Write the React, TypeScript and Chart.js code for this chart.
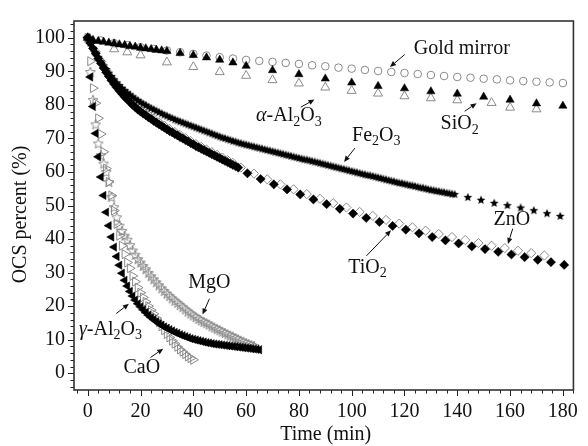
import React, { useEffect, useRef } from 'react';
import { Chart, registerables } from 'chart.js';
Chart.register(...registerables);

const FONT = '"Liberation Serif", "Times New Roman", serif';
const GRAY = '#8a8a8a';

// ---------------- data (time in min, OCS percent) ----------------
const goldX = [0, 5, 10, 15, 20, 25, 30, 35, 40, 45, 50, 55, 60, 65, 70, 75, 80, 85, 90, 95, 100, 105, 110, 115, 120, 125, 130, 135, 140, 145, 150, 155, 160, 165, 170, 175, 180];
const goldY = [100, 99.2, 98.4, 97.8, 97.2, 96.7, 96.2, 95.7, 95.2, 94.7, 94.2, 93.8, 93.4, 93.1, 92.8, 92.5, 92.2, 91.8, 91.5, 91.1, 90.8, 90.4, 90.1, 89.8, 89.5, 89.2, 88.9, 88.6, 88.3, 88.1, 87.8, 87.6, 87.3, 87.1, 86.9, 86.7, 86.5];

const alphaX = [0, 2, 4, 6, 8, 10, 12, 14, 16, 18, 20, 22, 24, 26, 28, 30, 35, 40, 45, 50, 55, 60, 70, 80, 90, 100, 110, 120, 130, 140, 150, 160, 170, 180];
const alphaY = [100, 99.3, 99.0, 98.8, 98.5, 98.3, 98.0, 97.8, 97.5, 97.3, 97.0, 96.8, 96.6, 96.4, 96.2, 96.0, 95.4, 94.8, 94.1, 93.4, 92.6, 91.6, 90.3, 89.1, 87.8, 86.6, 85.6, 84.9, 84.0, 83.3, 82.4, 81.5, 80.4, 79.7];

const sio2X = [0, 10, 15, 20, 30, 40, 50, 60, 70, 80, 90, 100, 110, 120, 130, 140, 153, 160, 170];
const sio2Y = [100, 96.6, 95.7, 94.8, 92.7, 91.3, 89.8, 88.7, 87.4, 86.4, 85.2, 84.2, 83.4, 82.6, 82.0, 81.4, 80.6, 79.2, 78.7];

const fe2o3X = [0, 1, 2, 3, 4, 5, 6, 7, 8, 9, 10, 11, 12, 13, 14, 15, 16, 17, 18, 19, 20, 21, 22, 23, 24, 25, 26, 27, 28, 29, 30, 31, 32, 33, 34, 35, 36, 37, 38, 39, 40, 41, 42, 43, 44, 45, 46, 47, 48, 49, 50, 51, 52, 53, 54, 55, 56, 57, 58, 59, 60, 61, 62, 63, 64, 65, 66, 67, 68, 69, 70, 71, 72, 73, 74, 75, 76, 77, 78, 79, 80, 81, 82, 83, 84, 85, 86, 87, 88, 89, 90, 91, 92, 93, 94, 95, 96, 97, 98, 99, 100, 101, 102, 103, 104, 105, 106, 107, 108, 109, 110, 111, 112, 113, 114, 115, 116, 117, 118, 119, 120, 121, 122, 123, 124, 125, 126, 127, 128, 129, 130, 131, 132, 133, 134, 135, 136, 137, 138, 139, 144, 149, 154, 159, 164, 169, 174, 179];
const fe2o3Y = [100, 98.5, 97.0, 95.6, 94.3, 93.0, 91.8, 90.7, 89.6, 88.6, 87.6, 86.7, 85.9, 85.1, 84.4, 83.7, 83.1, 82.5, 81.9, 81.4, 80.9, 80.4, 80.0, 79.5, 79.1, 78.7, 78.3, 77.9, 77.5, 77.1, 76.8, 76.4, 76.1, 75.7, 75.4, 75.1, 74.8, 74.5, 74.2, 73.9, 73.6, 73.3, 73.0, 72.7, 72.4, 72.1, 71.8, 71.5, 71.2, 70.9, 70.6, 70.3, 70.1, 69.8, 69.6, 69.3, 69.1, 68.8, 68.6, 68.4, 68.2, 68.0, 67.8, 67.6, 67.4, 67.2, 67.0, 66.8, 66.6, 66.4, 66.2, 66.0, 65.8, 65.6, 65.4, 65.2, 65.0, 64.8, 64.6, 64.4, 64.2, 64.0, 63.8, 63.7, 63.5, 63.3, 63.1, 62.9, 62.7, 62.5, 62.3, 62.1, 61.9, 61.7, 61.5, 61.3, 61.1, 60.9, 60.7, 60.5, 60.3, 60.1, 59.9, 59.7, 59.5, 59.3, 59.1, 59.0, 58.8, 58.6, 58.4, 58.2, 58.0, 57.8, 57.6, 57.4, 57.2, 57.0, 56.8, 56.7, 56.5, 56.3, 56.1, 56.0, 55.8, 55.6, 55.4, 55.3, 55.1, 54.9, 54.7, 54.6, 54.4, 54.3, 54.1, 54.0, 53.8, 53.7, 53.5, 53.4, 52.5, 51.7, 50.8, 50.1, 49.4, 48.6, 47.7, 46.9];

const tio2X = [0, 1, 2, 3, 4, 5, 6, 7, 8, 9, 10, 11, 12, 13, 14, 15, 16, 17, 18, 19, 20, 21, 22, 23, 24, 25, 26, 27, 28, 29, 30, 31, 32, 33, 34, 35, 36, 37, 38, 39, 40, 41, 42, 43, 44, 45, 46, 47, 48, 49, 50, 51, 52, 53, 54, 55, 56, 57, 60.5, 65.5, 70.5, 75.5, 80.5, 85.5, 90.5, 95.5, 100.5, 105.5, 110.5, 115.5, 120.5, 125.5, 130.5, 135.5, 140.5, 145.5, 150.5, 155.5, 160.5, 165.5, 170.5, 175.5, 180.5];
const tio2Y = [100, 98.4, 96.8, 95.3, 93.8, 92.4, 91.0, 89.7, 88.5, 87.3, 86.2, 85.2, 84.2, 83.3, 82.4, 81.6, 80.8, 80.0, 79.3, 78.6, 78.0, 77.4, 76.9, 76.3, 75.8, 75.2, 74.7, 74.2, 73.7, 73.2, 72.7, 72.2, 71.8, 71.3, 70.9, 70.4, 70.0, 69.5, 69.1, 68.6, 68.2, 67.7, 67.3, 66.9, 66.5, 66.1, 65.7, 65.3, 64.9, 64.5, 64.1, 63.7, 63.3, 62.9, 62.5, 62.1, 61.7, 61.3, 59.6, 57.9, 56.3, 54.8, 53.3, 51.8, 50.4, 49.0, 47.6, 46.3, 45.1, 43.9, 42.8, 41.7, 40.6, 39.6, 38.7, 37.8, 37.0, 36.2, 35.4, 34.6, 33.8, 33.1, 32.3];

const znoX = [1, 3, 5, 7, 9, 11, 13, 15, 17, 19, 21, 23, 25, 27, 29, 31, 33, 35, 37, 39, 41, 43, 45, 47, 49, 51, 53, 55, 58, 63, 68, 73, 78, 83, 88, 93, 98, 103, 108, 113, 118, 123, 128, 133, 138, 143, 148, 153, 158, 163, 168, 173];
const znoY = [98.9, 95.8, 93.0, 90.3, 87.9, 85.7, 83.8, 82.1, 80.6, 79.2, 78.0, 76.9, 75.8, 74.8, 73.8, 72.8, 71.9, 71.0, 70.1, 69.2, 68.3, 67.5, 66.7, 65.9, 65.1, 64.3, 63.5, 62.7, 61.3, 59.5, 57.8, 56.3, 54.8, 53.4, 52.0, 50.7, 49.4, 48.1, 46.9, 45.7, 44.6, 43.5, 42.5, 41.5, 40.6, 39.7, 38.8, 38.0, 37.3, 36.5, 35.8, 35.1];

const mgoX = [0, 1, 2, 3, 4, 5, 6, 7, 8, 9, 10, 11, 12, 13, 14, 15, 16, 17, 18, 19, 20, 21, 22, 23, 24, 25, 26, 27, 28, 29, 30, 31, 32, 33, 34, 35, 36, 37, 38, 39, 40, 41, 42, 43, 44, 45, 46, 47, 48, 49, 50, 51, 52, 53, 54, 55, 56, 57, 58, 59, 60, 61, 62, 63];
const mgoY = [100, 89.8, 81.5, 74.2, 68.5, 65.0, 62.5, 60.0, 57.0, 52.5, 49.5, 46.5, 44.0, 42.4, 41.0, 39.8, 38.2, 36.6, 35.3, 34.0, 33.0, 32.0, 31.0, 29.9, 28.9, 28.0, 27.1, 26.2, 25.3, 24.5, 23.7, 23.0, 22.3, 21.6, 21.0, 20.3, 19.7, 19.0, 18.4, 17.8, 17.2, 16.7, 16.2, 15.7, 15.3, 14.9, 14.5, 14.0, 13.6, 13.2, 12.8, 12.4, 12.0, 11.6, 11.2, 10.9, 10.5, 10.1, 9.7, 9.4, 9.0, 8.7, 8.4, 8.1];

const caoX = [0, 1, 2, 3, 4, 5, 6, 7, 8, 9, 10, 11, 12, 13, 14, 15, 16, 17, 18, 19, 20, 21, 22, 23, 24, 25, 26, 27, 28, 29, 30, 31, 32, 33, 34, 35, 36, 37, 38, 39, 40];
const caoY = [100, 93.0, 85.0, 80.5, 76.0, 71.3, 66.0, 61.0, 57.0, 53.0, 48.5, 44.5, 41.0, 38.0, 35.5, 33.0, 31.3, 29.0, 27.3, 25.5, 24.0, 22.6, 21.3, 20.0, 18.8, 17.7, 16.4, 15.2, 14.0, 12.8, 11.7, 10.7, 9.7, 8.8, 7.9, 7.1, 6.4, 5.7, 5.0, 4.5, 4.0];

const gammaX = [0, 1, 2, 3, 4, 5, 6, 7, 8, 9, 10, 11, 12, 13, 14, 15, 16, 17, 18, 19, 20, 21, 22, 23, 24, 25, 26, 27, 28, 29, 30, 31, 32, 33, 34, 35, 36, 37, 38, 39, 40, 41, 42, 43, 44, 45, 46, 47, 48, 49, 50, 51, 52, 53, 54, 55, 56, 57, 58, 59, 60, 61, 62, 63, 64, 65];
const gammaY = [100, 88.3, 79.5, 71.5, 64.5, 58.5, 53.0, 48.0, 44.0, 40.6, 37.6, 34.8, 32.2, 29.8, 27.7, 26.0, 24.4, 23.0, 21.8, 20.7, 19.8, 18.9, 18.1, 17.3, 16.6, 16.0, 15.4, 14.8, 14.3, 13.8, 13.4, 13.0, 12.6, 12.2, 11.9, 11.5, 11.2, 10.9, 10.6, 10.3, 10.1, 9.9, 9.7, 9.5, 9.3, 9.1, 9.0, 8.8, 8.7, 8.6, 8.5, 8.4, 8.3, 8.2, 8.1, 8.0, 7.9, 7.8, 7.7, 7.6, 7.5, 7.4, 7.3, 7.2, 7.1, 7.0];

const xTickLabels = [0, 20, 40, 60, 80, 100, 120, 140, 160, 180];
const yTickLabels = [0, 10, 20, 30, 40, 50, 60, 70, 80, 90, 100];

// annotation labels: text segments [text, kind] kind: '' normal, 's' subscript, 'i' italic
type Seg = [string, string];
const annotations: { segs: Seg[]; x: number; y: number; from: [number, number]; to: [number, number] }[] = [
  { segs: [['Gold mirror', '']], x: 141.7, y: 96.8, from: [120.1, 95.0], to: [114.5, 91.3] },
  { segs: [['α', 'i'], ['-Al', ''], ['2', 's'], ['O', ''], ['3', 's']], x: 76.2, y: 76.7, from: [80.7, 79.3], to: [85.9, 81.6] },
  { segs: [['SiO', ''], ['2', 's']], x: 140.9, y: 74.3, from: [142.8, 78.1], to: [147.3, 80.5] },
  { segs: [['Fe', ''], ['2', 's'], ['O', ''], ['3', 's']], x: 109.3, y: 70.8, from: [101.2, 67.1], to: [97.1, 63.0] },
  { segs: [['ZnO', '']], x: 160.7, y: 45.8, from: [161.0, 43.1], to: [159.2, 38.5] },
  { segs: [['TiO', ''], ['2', 's']], x: 106.0, y: 31.5, from: [105.6, 35.0], to: [114.9, 42.6] },
  { segs: [['MgO', '']], x: 46.1, y: 27.1, from: [46.1, 22.2], to: [43.5, 17.5] },
  { segs: [['γ', 'i'], ['-Al', ''], ['2', 's'], ['O', ''], ['3', 's']], x: 8.6, y: 13.1, from: [10.8, 17.8], to: [15.6, 20.7] },
  { segs: [['CaO', '']], x: 20.5, y: 1.5, from: [23.8, 4.7], to: [28.6, 7.3] },
];

// ---------------- helpers ----------------
function starImage(outer: number, fill: string | null, stroke: string | null, lw: number) {
  const size = Math.ceil(outer * 2 + lw * 2 + 2);
  const s = size % 2 === 0 ? size : size + 1;
  const c = document.createElement('canvas');
  c.width = s;
  c.height = s;
  const g = c.getContext('2d')!;
  const cx = s / 2, cy = s / 2 + outer * 0.08;
  const inner = outer * 0.45;
  g.beginPath();
  for (let i = 0; i < 10; i++) {
    const r = i % 2 === 0 ? outer : inner;
    const a = -Math.PI / 2 + (i * Math.PI) / 5;
    const px = cx + r * Math.cos(a), py = cy + r * Math.sin(a);
    if (i === 0) g.moveTo(px, py); else g.lineTo(px, py);
  }
  g.closePath();
  if (fill) { g.fillStyle = fill; g.fill(); }
  if (stroke) { g.strokeStyle = stroke; g.lineWidth = lw; g.stroke(); }
  return c;
}

const pts = (xs: number[], ys: number[]) => xs.map((x, i) => ({ x, y: ys[i] }));

function drawRich(ctx: CanvasRenderingContext2D, segs: Seg[], cx: number, cy: number, size: number) {
  const fontFor = (k: string) => (k === 's' ? `${Math.round(size * 0.68)}px ${FONT}` : k === 'i' ? `italic ${size}px ${FONT}` : `${size}px ${FONT}`);
  let total = 0;
  const widths = segs.map(([t, k]) => { ctx.font = fontFor(k); const w = ctx.measureText(t).width; total += w; return w; });
  let x = cx - total / 2;
  ctx.textBaseline = 'middle';
  ctx.textAlign = 'left';
  segs.forEach(([t, k], i) => {
    ctx.font = fontFor(k);
    ctx.fillText(t, x, k === 's' ? cy + size * 0.3 : cy);
    x += widths[i];
  });
}

function drawArrow(ctx: CanvasRenderingContext2D, x1: number, y1: number, x2: number, y2: number) {
  const ang = Math.atan2(y2 - y1, x2 - x1);
  const hl = 6, hw = 2.6;
  const bx = x2 - hl * Math.cos(ang), by = y2 - hl * Math.sin(ang);
  ctx.beginPath();
  ctx.moveTo(x1, y1);
  ctx.lineTo(bx, by);
  ctx.stroke();
  ctx.beginPath();
  ctx.moveTo(x2, y2);
  ctx.lineTo(bx + hw * Math.sin(ang), by - hw * Math.cos(ang));
  ctx.lineTo(bx - hw * Math.sin(ang), by + hw * Math.cos(ang));
  ctx.closePath();
  ctx.fill();
}

const decorPlugin = {
  id: 'decor',
  afterDraw(chart: any) {
    const { ctx, chartArea: a, scales } = chart;
    const xs = scales.x, ys = scales.y;
    ctx.save();
    ctx.strokeStyle = '#222';
    ctx.lineWidth = 1;
    // x ticks (outward, major every 20, minor every 4)
    for (let v = -4; v <= 184; v += 4) {
      const px = Math.round(xs.getPixelForValue(v)) + 0.5;
      if (px < a.left - 0.5 || px > a.right + 0.5) continue;
      const len = v % 20 === 0 ? 6 : 3.5;
      ctx.beginPath();
      ctx.moveTo(px, a.bottom);
      ctx.lineTo(px, a.bottom + len);
      ctx.stroke();
    }
    // y ticks (major every 10, minor every 2)
    for (let v = -4; v <= 104; v += 2) {
      const py = Math.round(ys.getPixelForValue(v)) + 0.5;
      const len = v % 10 === 0 ? 6 : 3.5;
      ctx.beginPath();
      ctx.moveTo(a.left, py);
      ctx.lineTo(a.left - len, py);
      ctx.stroke();
    }
    // frame
    ctx.strokeStyle = '#333';
    ctx.lineWidth = 1.6;
    ctx.strokeRect(a.left, a.top, a.right - a.left, a.bottom - a.top);

    // axis titles
    ctx.fillStyle = '#111';
    ctx.font = `20px ${FONT}`;
    ctx.textAlign = 'center';
    ctx.textBaseline = 'middle';
    ctx.fillText('Time (min)', (a.left + a.right) / 2 + 2, 435);
    ctx.save();
    ctx.translate(21, (a.top + a.bottom) / 2 + 9);
    ctx.rotate(-Math.PI / 2);
    ctx.fillText('OCS percent (%)', 0, 0);
    ctx.restore();

    // annotations
    ctx.fillStyle = '#111';
    ctx.strokeStyle = '#111';
    ctx.lineWidth = 1;
    for (const an of annotations) {
      drawRich(ctx, an.segs, xs.getPixelForValue(an.x), ys.getPixelForValue(an.y), 20);
      drawArrow(ctx, xs.getPixelForValue(an.from[0]), ys.getPixelForValue(an.from[1]), xs.getPixelForValue(an.to[0]), ys.getPixelForValue(an.to[1]));
    }
    ctx.restore();
  },
};

export default function App() {
  const ref = useRef<HTMLCanvasElement>(null);
  useEffect(() => {
    const canvas = ref.current!;
    const filledStar = starImage(4.6, '#000', null, 0);
    const openStar = starImage(5.2, null, GRAY, 1);
    const base = { showLine: false };
    const chart = new Chart(canvas, {
      type: 'scatter',
      data: {
        datasets: [
          { ...base, label: 'TiO2', data: pts(tio2X, tio2Y), pointStyle: 'rectRot', pointRadius: 4.6, pointBackgroundColor: '#000', pointBorderColor: '#000', pointBorderWidth: 0.5 },
          { ...base, label: 'Fe2O3', data: pts(fe2o3X, fe2o3Y), pointStyle: filledStar, pointRadius: 4 },
          { ...base, label: 'alpha-Al2O3', data: pts(alphaX, alphaY), pointStyle: 'triangle', pointRadius: 4.8, pointBackgroundColor: '#000', pointBorderColor: '#000', pointBorderWidth: 0.5 },
          { ...base, label: 'gamma-Al2O3', data: pts(gammaX, gammaY), pointStyle: 'triangle', pointRotation: -90, pointRadius: 4.8, pointBackgroundColor: '#000', pointBorderColor: '#000', pointBorderWidth: 0.5 },
          { ...base, label: 'ZnO', data: pts(znoX, znoY), pointStyle: 'rectRot', pointRadius: 4.6, pointBackgroundColor: 'rgba(255,255,255,0)', pointBorderColor: GRAY, pointBorderWidth: 1 },
          { ...base, label: 'MgO', data: pts(mgoX, mgoY), pointStyle: openStar, pointRadius: 4 },
          { ...base, label: 'CaO', data: pts(caoX, caoY), pointStyle: 'triangle', pointRotation: 90, pointRadius: 5.2, pointBackgroundColor: 'rgba(255,255,255,0)', pointBorderColor: GRAY, pointBorderWidth: 1 },
          { ...base, label: 'SiO2', data: pts(sio2X, sio2Y), pointStyle: 'triangle', pointRadius: 5.2, pointBackgroundColor: 'rgba(255,255,255,0)', pointBorderColor: GRAY, pointBorderWidth: 1 },
          { ...base, label: 'Gold mirror', data: pts(goldX, goldY), pointStyle: 'circle', pointRadius: 3.8, pointBackgroundColor: 'rgba(255,255,255,0)', pointBorderColor: GRAY, pointBorderWidth: 1 },
        ],
      },
      options: {
        animation: false,
        responsive: false,
        devicePixelRatio: 1,
        events: [],
        layout: { padding: { left: 0, top: 13, right: 6, bottom: 0 } },
        plugins: { legend: { display: false }, tooltip: { enabled: false }, title: { display: false } },
        scales: {
          x: {
            type: 'linear',
            min: -5.2,
            max: 184,
            grid: { display: false, drawTicks: false },
            border: { display: false },
            afterBuildTicks: (s: any) => { s.ticks = xTickLabels.map((v) => ({ value: v })); },
            afterFit: (s: any) => { s.height = 56; },
            ticks: { autoSkip: false, maxRotation: 0, padding: 10, color: '#111', font: { family: FONT, size: 20 }, callback: (v: any) => String(v) },
          },
          y: {
            type: 'linear',
            min: -5,
            max: 105,
            grid: { display: false, drawTicks: false },
            border: { display: false },
            afterBuildTicks: (s: any) => { s.ticks = yTickLabels.map((v) => ({ value: v })); },
            afterFit: (s: any) => { s.width = 74; },
            ticks: { autoSkip: false, padding: 9, color: '#111', font: { family: FONT, size: 20 }, callback: (v: any) => String(v) },
          },
        },
      },
      plugins: [decorPlugin],
    } as any);
    return () => chart.destroy();
  }, []);
  return (
    <div style={{ position: 'fixed', left: 0, top: 0, width: 588, height: 446, background: '#fff' }}>
      <canvas ref={ref} width={588} height={446} style={{ display: 'block' }} />
    </div>
  );
}
